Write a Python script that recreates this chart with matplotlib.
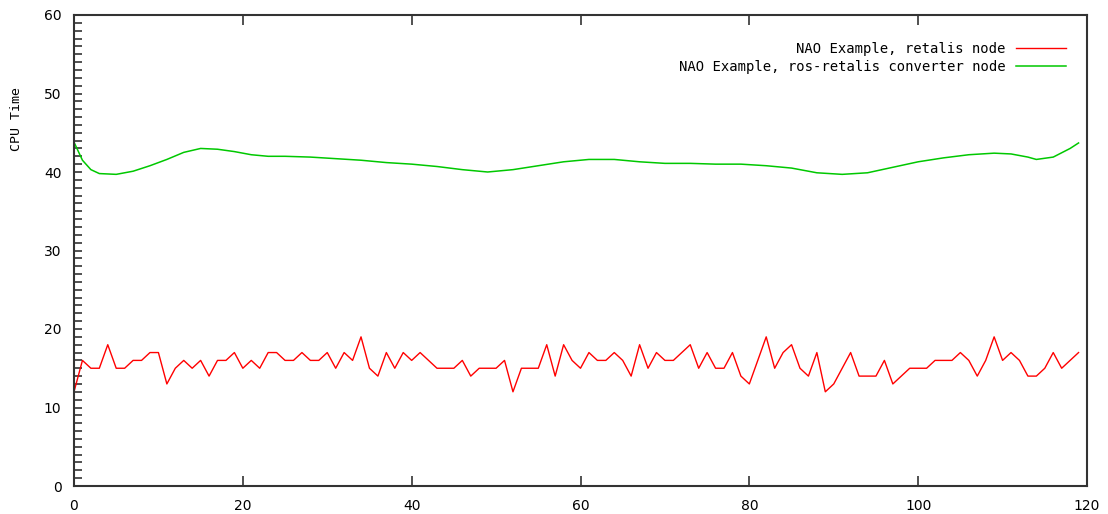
import numpy as np
import matplotlib
matplotlib.use('Agg')
from matplotlib import pyplot as plt
from matplotlib.ticker import MultipleLocator

# retalis node, one sample per x (0..119)
red_y = [12, 16, 15, 15, 18, 15, 15, 16, 16, 17,
         17, 13, 15, 16, 15, 16, 14, 16, 16, 17,
         15, 16, 15, 17, 17, 16, 16, 17, 16, 16,
         17, 15, 17, 16, 19, 15, 14, 17, 15, 17,
         16, 17, 16, 15, 15, 15, 16, 14, 15, 15,
         15, 16, 12, 15, 15, 15, 18, 14, 18, 16,
         15, 17, 16, 16, 17, 16, 14, 18, 15, 17,
         16, 16, 17, 18, 15, 17, 15, 15, 17, 14,
         13, 16, 19, 15, 17, 18, 15, 14, 17, 12,
         13, 15, 17, 14, 14, 14, 16, 13, 14, 15,
         15, 15, 16, 16, 16, 17, 16, 14, 16, 19,
         16, 17, 16, 14, 14, 15, 17, 15, 16, 17]
red_x = list(range(len(red_y)))

# ros-retalis converter node (smooth curve, read at selected x)
green_x = [0, 1, 2, 3, 5, 7, 9, 11, 13, 15, 17, 19, 21, 23, 25, 28, 31, 34, 37, 40,
           43, 46, 49, 52, 55, 58, 61, 64, 67, 70, 73, 76, 79, 82, 85, 88, 91, 94, 97,
           100, 103, 106, 109, 111, 113, 114, 116, 118, 119]
green_y = [43.8, 41.5, 40.3, 39.8, 39.7, 40.1, 40.8, 41.6, 42.5, 43.0, 42.9, 42.6, 42.2,
           42.0, 42.0, 41.9, 41.7, 41.5, 41.2, 41.0, 40.7, 40.3, 40.0, 40.3, 40.8, 41.3,
           41.6, 41.6, 41.3, 41.1, 41.1, 41.0, 41.0, 40.8, 40.5, 39.9, 39.7, 39.9, 40.6,
           41.3, 41.8, 42.2, 42.4, 42.3, 41.9, 41.6, 41.9, 43.0, 43.7]

labels = ['NAO Example, retalis node', 'NAO Example, ros-retalis converter node']

plt.rcParams['font.family'] = ['DejaVu Sans Mono']
plt.rcParams['font.size'] = 10

fig = plt.figure(figsize=(11.08, 5.14), dpi=100)
ax = fig.add_axes([74 / 1108, 1 - 486 / 514, 1013 / 1108, 471 / 514])

ax.plot(red_x, red_y, color='#ff0000', lw=1.0, label=labels[0])
ax.plot(green_x, green_y, color='#00c800', lw=1.1, label=labels[1])

ax.set_xlim(0, 120)
ax.set_ylim(0, 60)
ax.xaxis.set_major_locator(MultipleLocator(20))
ax.yaxis.set_major_locator(MultipleLocator(10))
ax.yaxis.set_minor_locator(MultipleLocator(1))

ax.tick_params(axis='x', which='major', direction='in', top=True, bottom=True,
               length=7, width=1.2, color='#333333', pad=9)
ax.tick_params(axis='y', which='both', direction='in', left=True, right=False,
               length=6, width=1.2, color='#333333', pad=9)
for t in ax.get_xticklabels() + ax.get_yticklabels():
    t.set_fontfamily('DejaVu Sans')
    t.set_fontsize(10)
for s in ax.spines.values():
    s.set_color('#333333')
    s.set_linewidth(1.5)

ax.set_ylabel('CPU Time', fontsize=9.5)
ax.yaxis.set_label_coords(-0.05, 0.78)

leg = ax.legend(loc='upper right', bbox_to_anchor=(0.985, 0.955), frameon=False,
                markerfirst=False, handlelength=3.6, handletextpad=0.8,
                labelspacing=0.3, fontsize=10, borderaxespad=0)

fig.savefig('out.png', dpi=100)
